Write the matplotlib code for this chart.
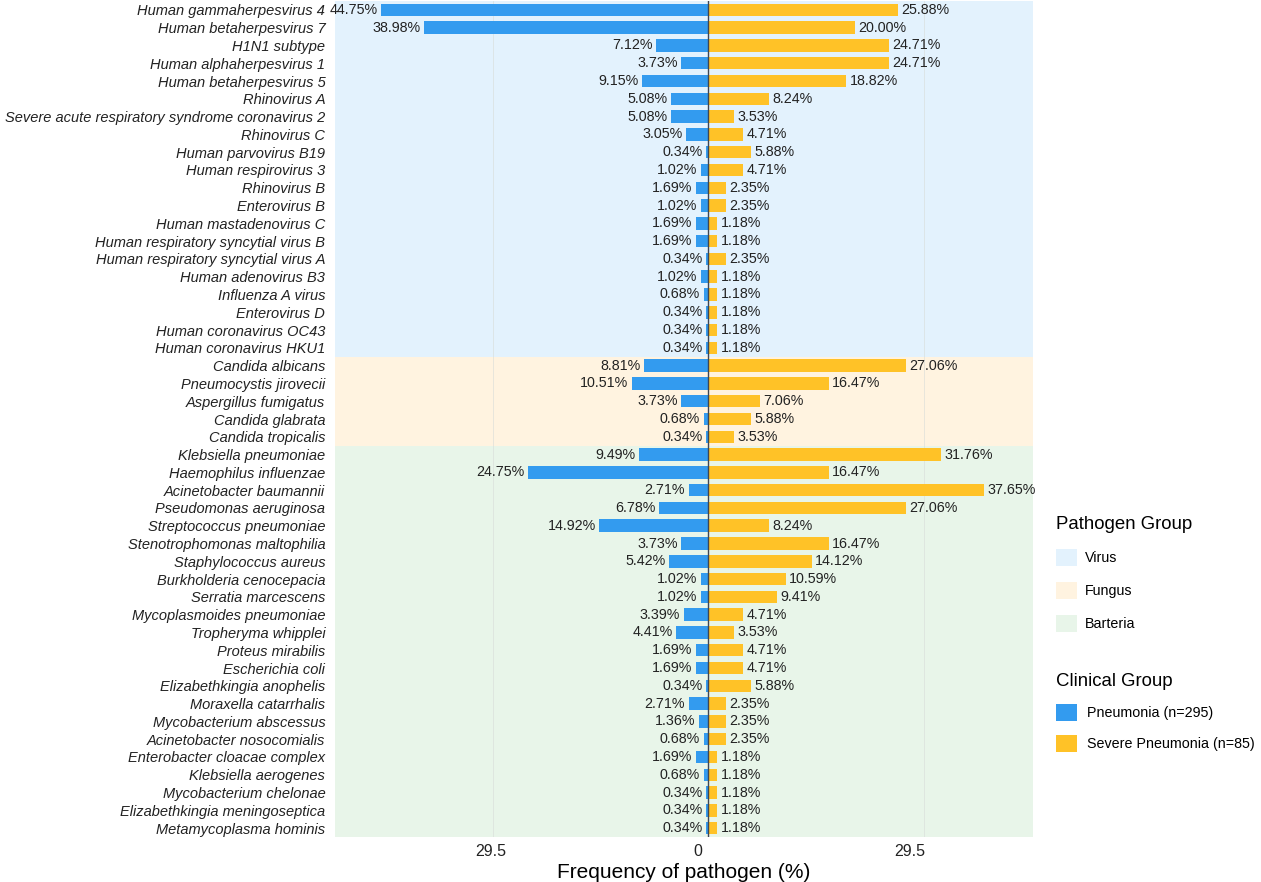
import numpy as np
import matplotlib
matplotlib.use("Agg")
import matplotlib.pyplot as plt
from matplotlib.patches import Patch
from matplotlib.transforms import ScaledTranslation

plt.rcParams["font.family"] = ["Liberation Sans", "DejaVu Sans"]

# pathogen rows, top to bottom
virus = [
    "Human gammaherpesvirus 4", "Human betaherpesvirus 7", "H1N1 subtype",
    "Human alphaherpesvirus 1", "Human betaherpesvirus 5", "Rhinovirus A",
    "Severe acute respiratory syndrome coronavirus 2", "Rhinovirus C",
    "Human parvovirus B19", "Human respirovirus 3", "Rhinovirus B",
    "Enterovirus B", "Human mastadenovirus C",
    "Human respiratory syncytial virus B", "Human respiratory syncytial virus A",
    "Human adenovirus B3", "Influenza A virus", "Enterovirus D",
    "Human coronavirus OC43", "Human coronavirus HKU1",
]
fungus = [
    "Candida albicans", "Pneumocystis jirovecii", "Aspergillus fumigatus",
    "Candida glabrata", "Candida tropicalis",
]
bacteria = [
    "Klebsiella pneumoniae", "Haemophilus influenzae", "Acinetobacter baumannii",
    "Pseudomonas aeruginosa", "Streptococcus pneumoniae",
    "Stenotrophomonas maltophilia", "Staphylococcus aureus",
    "Burkholderia cenocepacia", "Serratia marcescens",
    "Mycoplasmoides pneumoniae", "Tropheryma whipplei", "Proteus mirabilis",
    "Escherichia coli", "Elizabethkingia anophelis", "Moraxella catarrhalis",
    "Mycobacterium abscessus", "Acinetobacter nosocomialis",
    "Enterobacter cloacae complex", "Klebsiella aerogenes",
    "Mycobacterium chelonae", "Elizabethkingia meningoseptica",
    "Metamycoplasma hominis",
]

pneumonia_virus = [44.75, 38.98, 7.12, 3.73, 9.15, 5.08, 5.08, 3.05, 0.34, 1.02,
                   1.69, 1.02, 1.69, 1.69, 0.34, 1.02, 0.68, 0.34, 0.34, 0.34]
severe_virus = [25.88, 20.00, 24.71, 24.71, 18.82, 8.24, 3.53, 4.71, 5.88, 4.71,
                2.35, 2.35, 1.18, 1.18, 2.35, 1.18, 1.18, 1.18, 1.18, 1.18]
pneumonia_fungus = [8.81, 10.51, 3.73, 0.68, 0.34]
severe_fungus = [27.06, 16.47, 7.06, 5.88, 3.53]
pneumonia_bacteria = [9.49, 24.75, 2.71, 6.78, 14.92, 3.73, 5.42, 1.02, 1.02,
                      3.39, 4.41, 1.69, 1.69, 0.34, 2.71, 1.36, 0.68, 1.69,
                      0.68, 0.34, 0.34, 0.34]
severe_bacteria = [31.76, 16.47, 37.65, 27.06, 8.24, 16.47, 14.12, 10.59, 9.41,
                   4.71, 3.53, 4.71, 4.71, 5.88, 2.35, 2.35, 2.35, 1.18, 1.18,
                   1.18, 1.18, 1.18]

group_names = ["Virus", "Fungus", "Barteria"]
group_colors = ["#E3F2FD", "#FFF3E0", "#E8F5E9"]
clinical_names = ["Pneumonia (n=295)", "Severe Pneumonia (n=85)"]
clinical_colors = ["#339BEF", "#FFC227"]

labels = virus + fungus + bacteria
left = np.array(pneumonia_virus + pneumonia_fungus + pneumonia_bacteria)
right = np.array(severe_virus + severe_fungus + severe_bacteria)
sizes = [len(virus), len(fungus), len(bacteria)]
y = np.arange(len(labels))

fig = plt.figure(figsize=(12.61, 8.82), dpi=100)
ax = fig.add_axes([335 / 1261, 45 / 882, 698 / 1261, 836 / 882])

# group background bands
start = 0
for size, color in zip(sizes, group_colors):
    ax.axhspan(start - 0.5, start + size - 0.5, color=color, lw=0, zorder=0)
    start += size

for gx in (-29.5, 29.5):
    ax.axvline(gx, color="#d8dcd8", lw=0.6, alpha=0.7, zorder=1)

ax.barh(y, -left, height=0.7, color=clinical_colors[0], zorder=2)
ax.barh(y, right, height=0.7, color=clinical_colors[1], zorder=2)
ax.axvline(0, color="#3f4652", lw=1.0, zorder=3)

for yi, lv, rv in zip(y, left, right):
    ax.annotate(f"{lv:.2f}%", (-lv, yi), xytext=(-2.5, 0),
                textcoords="offset points", ha="right", va="center",
                fontsize=10.3, color="#222222")
    ax.annotate(f"{rv:.2f}%", (rv, yi), xytext=(2.5, 0),
                textcoords="offset points", ha="left", va="center",
                fontsize=10.3, color="#222222")

ax.set_xlim(-51.1, 44.4)
ax.set_ylim(len(labels) - 0.5, -0.5)
ax.set_yticks(y)
ax.set_yticklabels(labels, fontstyle="italic", fontsize=10.5, color="#222222")
ax.set_xticks([-29.5, 0, 29.5])
ax.set_xticklabels(["29.5", "0", "29.5"], fontsize=11.5, color="#222222")
ax.tick_params(length=0)
ax.tick_params(axis="y", pad=7)
ax.tick_params(axis="x", pad=5)

# nudge tick labels to sit like the original
for lab, dx in zip(ax.get_xticklabels(), [-2, -11, -14]):
    lab.set_transform(lab.get_transform() + ScaledTranslation(dx / 100, 0, fig.dpi_scale_trans))

ax.set_xlabel("Frequency of pathogen (%)", fontsize=15, labelpad=3)
for s in ax.spines.values():
    s.set_visible(False)

h1 = [Patch(facecolor=c, edgecolor="none") for c in group_colors]
leg1 = fig.legend(h1, group_names, title="Pathogen Group", loc="upper left",
                  bbox_to_anchor=(1056 / 1261, 1 - 516 / 882), frameon=False,
                  fontsize=10.3, title_fontsize=13.4, handlelength=1.45,
                  handleheight=1.4, handletextpad=0.55, labelspacing=1.15,
                  borderpad=0, borderaxespad=0, alignment="left")
h2 = [Patch(facecolor=c, edgecolor="none") for c in clinical_colors]
leg2 = fig.legend(h2, clinical_names, title="Clinical Group", loc="upper left",
                  bbox_to_anchor=(1056 / 1261, 1 - 673 / 882), frameon=False,
                  fontsize=10.3, title_fontsize=13.4, handlelength=1.45,
                  handleheight=1.4, handletextpad=0.75, labelspacing=1.0,
                  borderpad=0, borderaxespad=0, alignment="left")

fig.savefig("out.png", dpi=100)
